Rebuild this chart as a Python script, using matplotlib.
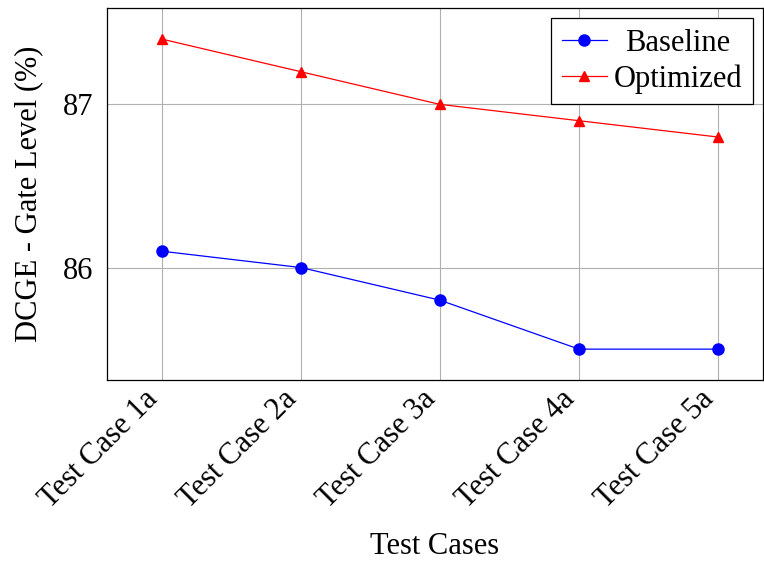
import matplotlib.pyplot as plt
import matplotlib.transforms as mtransforms

plt.rcParams["font.family"] = ["Liberation Serif", "DejaVu Serif"]
plt.rcParams["mathtext.fontset"] = "stix"

cases = ["Test Case 1a", "Test Case 2a", "Test Case 3a", "Test Case 4a", "Test Case 5a"]
baseline = [86.1, 86.0, 85.8, 85.5, 85.5]
optimized = [87.4, 87.2, 87.0, 86.9, 86.8]

x = list(range(len(cases)))

fig = plt.figure(figsize=(7.64, 5.64), dpi=100)
ax = fig.add_axes([0.140, 0.326, 0.8586, 0.6596])

ax.plot(x, baseline, color="blue", marker="o", markersize=8, linewidth=0.9,
        label="Baseline")
ax.plot(x, optimized, color="red", marker="^", markersize=7, linewidth=0.9,
        label="Optimized")

ax.set_xlim(-0.396, 4.324)
ax.set_ylim(85.31, 87.59)
ax.set_yticks([86, 87])
ax.set_xticks(x)
ax.set_xticklabels(cases, rotation=45, ha="right", va="center",
                   rotation_mode="anchor")
ax.tick_params(axis="both", length=0, labelsize=22)
ax.tick_params(axis="y", pad=10)
ax.tick_params(axis="x", pad=11)
# nudge the rotated labels so their ends sit under the ticks
shift = mtransforms.ScaledTranslation(-6 / 72, 0, fig.dpi_scale_trans)
for lbl in ax.get_xticklabels():
    lbl.set_transform(lbl.get_transform() + shift)

ax.grid(True, color="#b0b0b0", linewidth=0.8)
for s in ax.spines.values():
    s.set_linewidth(0.9)

ax.set_xlabel("Test Cases", fontsize=22, labelpad=13)
ax.set_ylabel("DCGE - Gate Level (%)", fontsize=22, labelpad=14)

leg = ax.legend(loc="upper right", fontsize=22, fancybox=False, framealpha=1,
                edgecolor="black", handlelength=1.5, handletextpad=0.2,
                borderpad=0.35, labelspacing=0.2, borderaxespad=0.33)
leg.get_frame().set_linewidth(0.9)

# centre the shorter entry in its column
fig.canvas.draw()
texts = leg.get_texts()
r = fig.canvas.get_renderer()
widths = [t.get_window_extent(r).width for t in texts]
wmax = max(widths)
for t, w in zip(texts, widths):
    t.set_position(((wmax - w) / 2, 0))

fig.savefig("out.png", dpi=100)
